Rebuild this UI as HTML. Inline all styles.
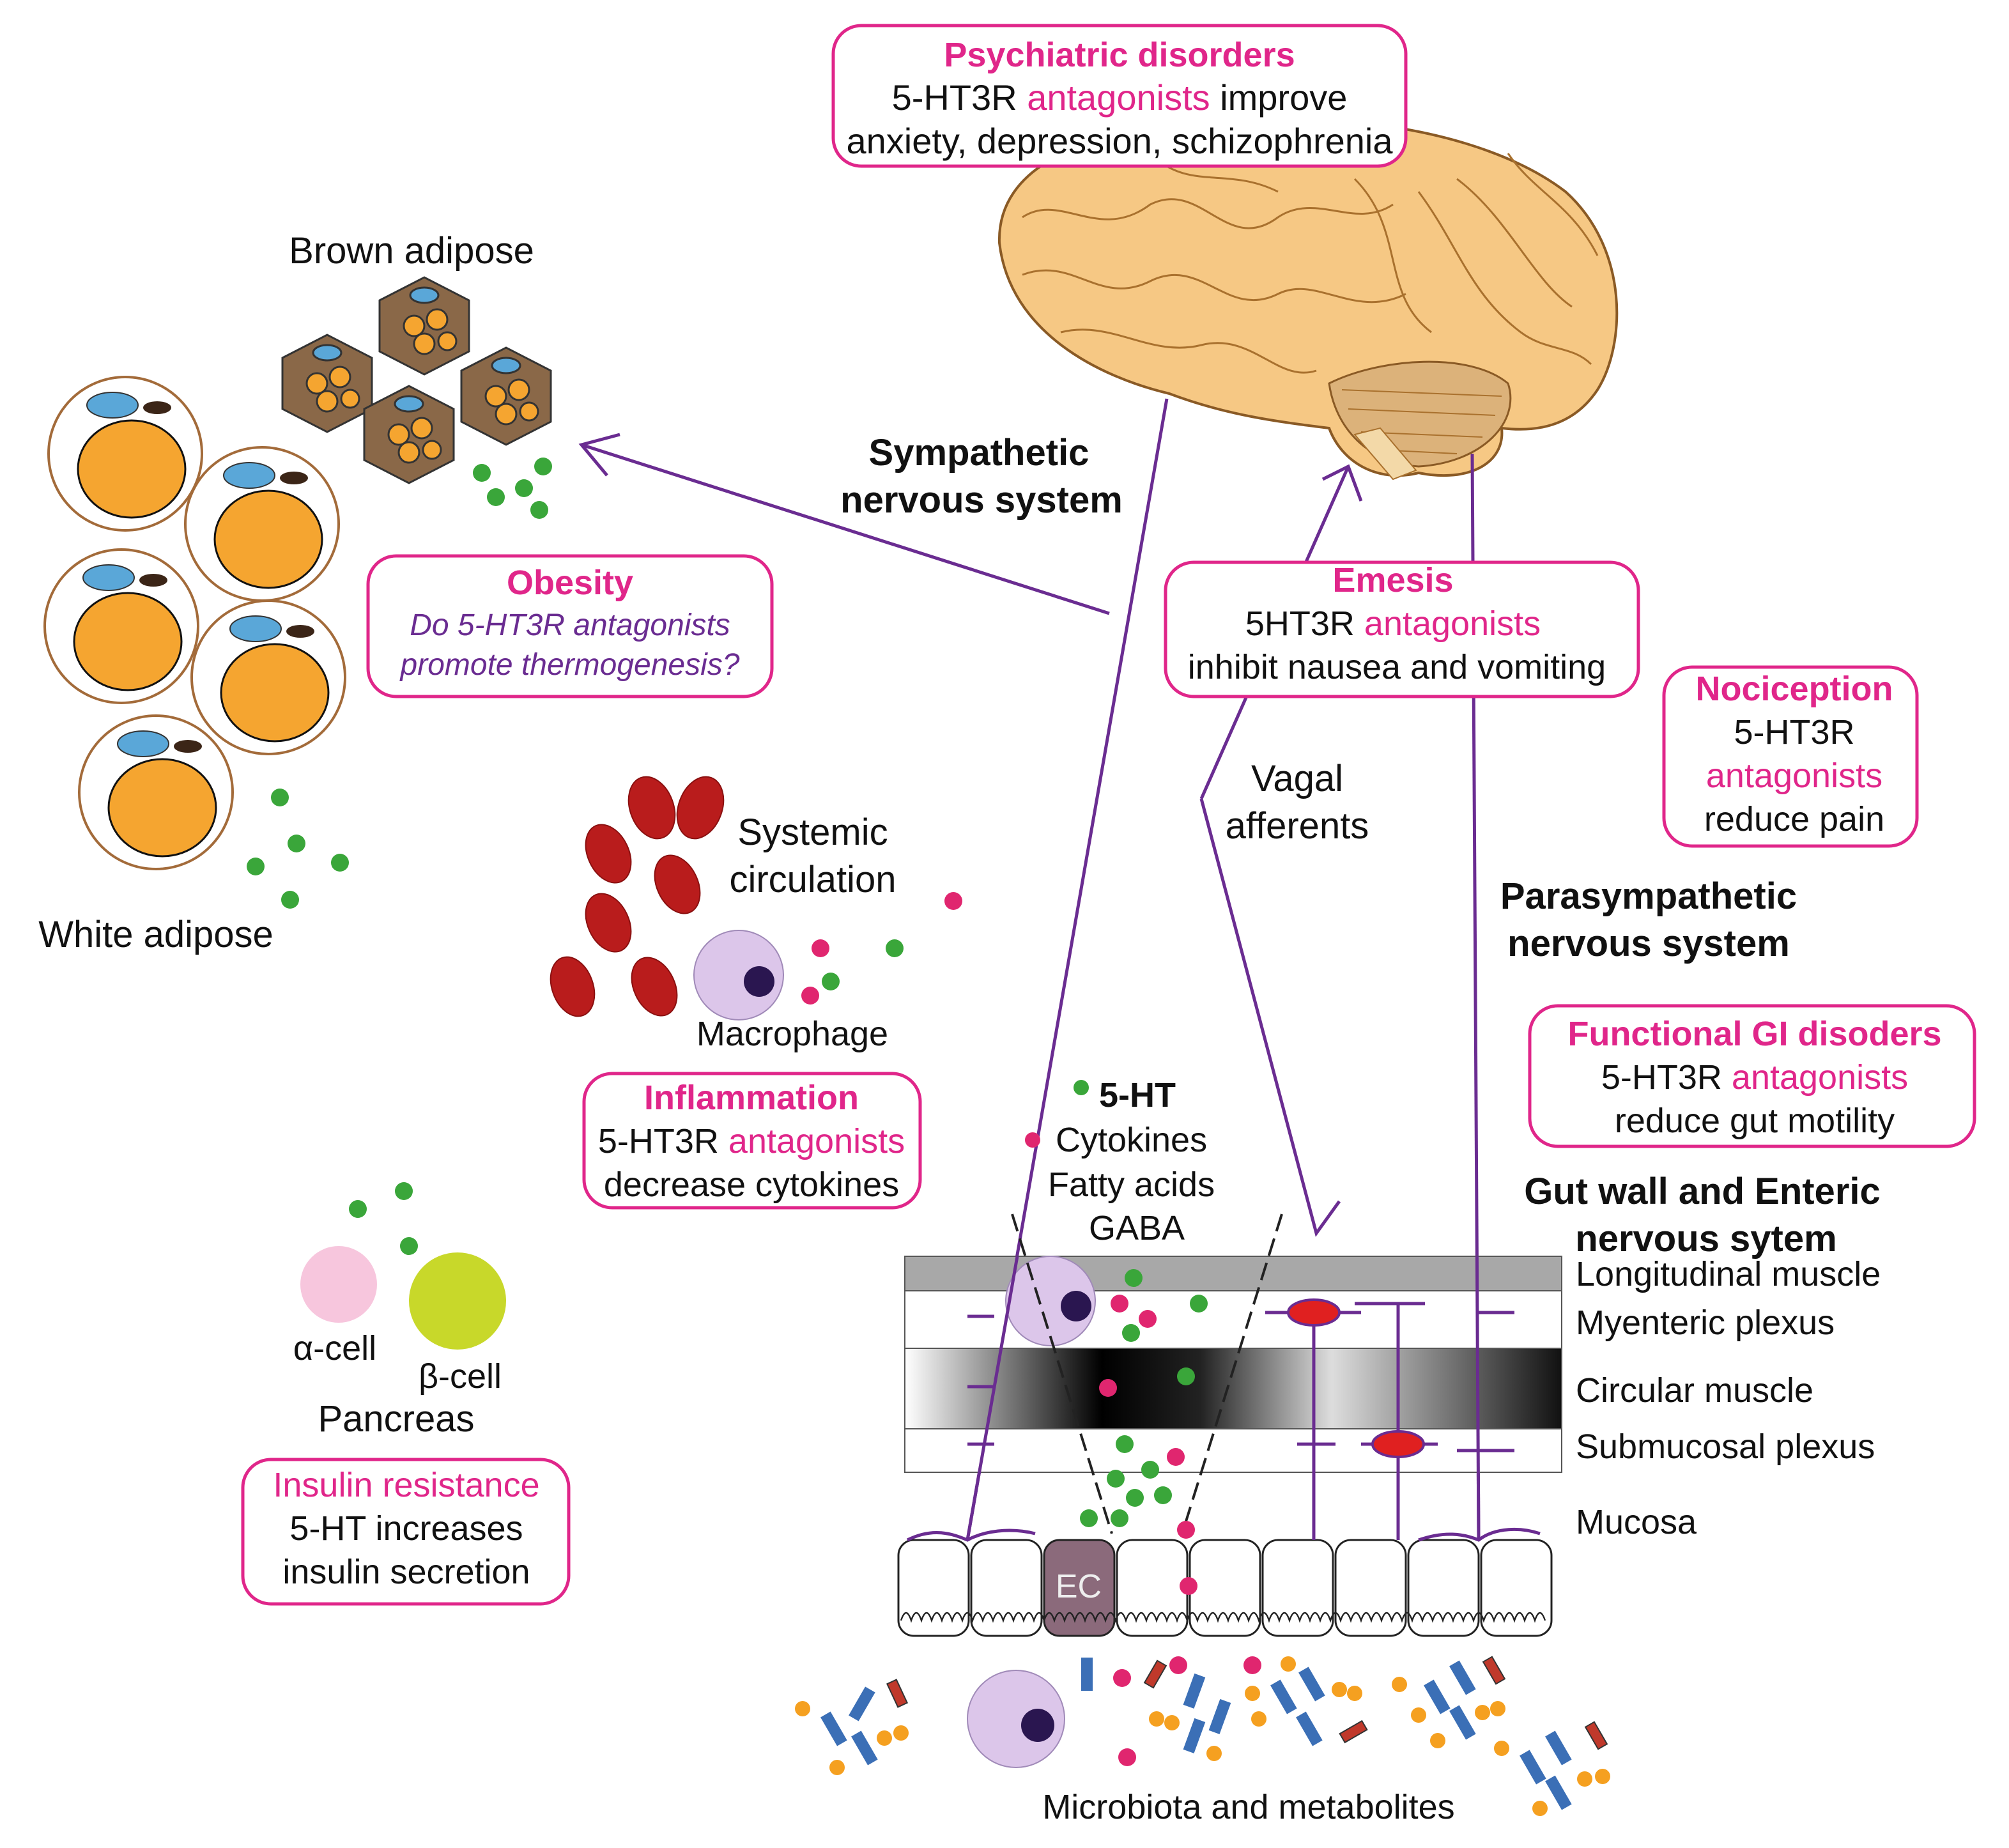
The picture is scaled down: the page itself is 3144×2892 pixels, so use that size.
<!DOCTYPE html>
<html><head><meta charset="utf-8"><style>
html,body{margin:0;padding:0;background:#fff;}
svg{display:block;}
text{font-family:"Liberation Sans",Arial,sans-serif;}
</style></head><body>
<svg width="3144" height="2892" viewBox="0 0 1572 1446" xmlns="http://www.w3.org/2000/svg">
<defs>
<linearGradient id="cm" x1="0" x2="1">
<stop offset="0" stop-color="#fff"/><stop offset="0.3" stop-color="#000"/><stop offset="0.45" stop-color="#222"/><stop offset="0.65" stop-color="#ddd"/><stop offset="1" stop-color="#111"/>
</linearGradient>
</defs>
<rect width="1572" height="1446" fill="#fff"/>

<!-- brain -->
<path d="M782,190 C780,130 850,100 940,102 C1030,82 1160,100 1225,150 C1275,195 1272,270 1250,305 C1230,335 1200,338 1175,335 C1178,362 1150,378 1110,370 C1078,378 1050,362 1040,335 C1000,330 960,325 915,308 C860,295 790,260 782,190 Z" fill="#f6c884" stroke="#8a5a25" stroke-width="2"/>
<path d="M1040,300 C1080,280 1150,275 1180,300 C1190,330 1160,362 1110,365 C1070,362 1045,335 1040,300Z" fill="#dcb27a" stroke="#8a5a25" stroke-width="1.5"/>
<g stroke="#a9712e" stroke-width="1" fill="none"><path d="M1050,305 L1175,310"/><path d="M1055,320 L1170,325"/><path d="M1065,338 L1160,342"/><path d="M1080,352 L1140,355"/></g>
<path d="M1060,340 L1090,375 L1108,368 L1080,335Z" fill="#f3d9a8" stroke="#a9712e"/>
<g fill="none" stroke="#a9712e" stroke-width="1.5">
<path d="M800,170 C830,150 860,190 900,160 C940,140 960,200 1000,170 C1030,150 1060,180 1090,160"/>
<path d="M800,215 C840,200 860,240 900,220 C940,200 960,250 1000,230 C1030,215 1060,250 1100,230"/>
<path d="M830,260 C870,250 900,280 940,270 C980,260 1000,300 1030,290"/>
<path d="M1060,140 C1100,180 1080,230 1120,260"/>
<path d="M1140,140 C1180,170 1200,220 1230,240"/>
<path d="M1110,150 C1140,190 1150,230 1190,260 C1210,275 1230,270 1245,285"/>
<path d="M900,120 C930,150 960,130 1000,150"/>
<path d="M1180,120 C1200,150 1230,160 1250,200"/>
</g>

<!-- nerves (drawn under boxes) -->
<g stroke="#6a2c91" stroke-width="2.5" fill="none">
<line x1="913" y1="312" x2="757" y2="1205"/>
<line x1="868" y1="480" x2="455" y2="348"/>
<polyline points="485,340 455,348 475,372"/>
<line x1="1152" y1="355" x2="1157" y2="1205"/>
<polyline points="940,625 1055,365"/>
<polyline points="1035,375 1055,365 1065,392"/>
<polyline points="940,625 1030,965 1048,940"/>
</g>

<!-- boxes -->
<g fill="#fff" stroke="#e0268a" stroke-width="2.5">
<rect x="652" y="20" width="448" height="110" rx="22"/>
<rect x="288" y="435" width="316" height="110" rx="22"/>
<rect x="912" y="440" width="370" height="105" rx="22"/>
<rect x="1302" y="522" width="198" height="140" rx="22"/>
<rect x="1197" y="787" width="348" height="110" rx="22"/>
<rect x="457" y="840" width="263" height="105" rx="22"/>
<rect x="190" y="1142" width="255" height="113" rx="22"/>
</g>
<g font-size="27" text-anchor="middle" fill="#111">
<text x="876" y="52" font-weight="bold" fill="#e0268a">Psychiatric disorders</text>
<text x="876" y="86" font-size="28">5-HT3R <tspan fill="#e0268a">antagonists</tspan> improve</text>
<text x="876" y="120" font-size="28">anxiety, depression, schizophrenia</text>
<text x="446" y="465" font-weight="bold" fill="#e0268a">Obesity</text>
<text x="446" y="497" font-style="italic" fill="#6a2c91" font-size="24">Do 5-HT3R antagonists</text>
<text x="446" y="528" font-style="italic" fill="#6a2c91" font-size="24">promote thermogenesis?</text>
<text x="1090" y="463" font-weight="bold" fill="#e0268a">Emesis</text>
<text x="1090" y="497">5HT3R <tspan fill="#e0268a">antagonists</tspan></text>
<text x="1093" y="531">inhibit nausea and vomiting</text>
<text x="1404" y="548" font-weight="bold" fill="#e0268a">Nociception</text>
<text x="1404" y="582">5-HT3R</text>
<text x="1404" y="616" fill="#e0268a">antagonists</text>
<text x="1404" y="650">reduce pain</text>
<text x="1373" y="818" font-weight="bold" fill="#e0268a">Functional GI disoders</text>
<text x="1373" y="852">5-HT3R <tspan fill="#e0268a">antagonists</tspan></text>
<text x="1373" y="886">reduce gut motility</text>
<text x="588" y="868" font-weight="bold" fill="#e0268a">Inflammation</text>
<text x="588" y="902">5-HT3R <tspan fill="#e0268a">antagonists</tspan></text>
<text x="588" y="936">decrease cytokines</text>
<text x="318" y="1171" fill="#e0268a">Insulin resistance</text>
<text x="318" y="1205">5-HT increases</text>
<text x="318" y="1239">insulin secretion</text>
</g>

<!-- labels -->
<g font-size="29" fill="#111" text-anchor="middle">
<text x="322" y="206">Brown adipose</text>
<text x="122" y="741">White adipose</text>
<text x="766" y="364" font-weight="bold">Sympathetic</text>
<text x="768" y="401" font-weight="bold">nervous system</text>
<text x="1015" y="619">Vagal</text>
<text x="1015" y="656">afferents</text>
<text x="1290" y="711" font-weight="bold">Parasympathetic</text>
<text x="1290" y="748" font-weight="bold">nervous system</text>
<text x="1332" y="942" font-weight="bold">Gut wall and Enteric</text>
<text x="1335" y="979" font-weight="bold">nervous sytem</text>
<text x="636" y="661">Systemic</text>
<text x="636" y="698">circulation</text>
<text x="310" y="1120">Pancreas</text>
</g>
<g font-size="27" fill="#111">
<text x="1233" y="1006">Longitudinal muscle</text>
<text x="1233" y="1044">Myenteric plexus</text>
<text x="1233" y="1097">Circular muscle</text>
<text x="1233" y="1141">Submucosal plexus</text>
<text x="1233" y="1200">Mucosa</text>
<text x="620" y="818" text-anchor="middle">Macrophage</text>
<text x="977" y="1423" text-anchor="middle">Microbiota and metabolites</text>
<text x="262" y="1064" text-anchor="middle">α-cell</text>
<text x="360" y="1086" text-anchor="middle">β-cell</text>
<text x="860" y="866" font-weight="bold">5-HT</text>
<text x="826" y="901">Cytokines</text>
<text x="820" y="936">Fatty acids</text>
<text x="852" y="970">GABA</text>
</g>
<circle cx="846" cy="851" r="6" fill="#3aa63a"/>
<circle cx="808" cy="892" r="6" fill="#e0266f"/>

<!-- white adipose -->
<g>
<g transform="translate(98,355)"><circle r="60" fill="#fff" stroke="#a36b3a" stroke-width="2"/><ellipse cx="5" cy="12" rx="42" ry="38" fill="#f5a530" stroke="#111" stroke-width="1.5"/><ellipse cx="-10" cy="-38" rx="20" ry="10" fill="#5aa7d8" stroke="#333"/><ellipse cx="25" cy="-36" rx="11" ry="5" fill="#3b2517"/></g>
<g transform="translate(205,410)"><circle r="60" fill="#fff" stroke="#a36b3a" stroke-width="2"/><ellipse cx="5" cy="12" rx="42" ry="38" fill="#f5a530" stroke="#111" stroke-width="1.5"/><ellipse cx="-10" cy="-38" rx="20" ry="10" fill="#5aa7d8" stroke="#333"/><ellipse cx="25" cy="-36" rx="11" ry="5" fill="#3b2517"/></g>
<g transform="translate(95,490)"><circle r="60" fill="#fff" stroke="#a36b3a" stroke-width="2"/><ellipse cx="5" cy="12" rx="42" ry="38" fill="#f5a530" stroke="#111" stroke-width="1.5"/><ellipse cx="-10" cy="-38" rx="20" ry="10" fill="#5aa7d8" stroke="#333"/><ellipse cx="25" cy="-36" rx="11" ry="5" fill="#3b2517"/></g>
<g transform="translate(210,530)"><circle r="60" fill="#fff" stroke="#a36b3a" stroke-width="2"/><ellipse cx="5" cy="12" rx="42" ry="38" fill="#f5a530" stroke="#111" stroke-width="1.5"/><ellipse cx="-10" cy="-38" rx="20" ry="10" fill="#5aa7d8" stroke="#333"/><ellipse cx="25" cy="-36" rx="11" ry="5" fill="#3b2517"/></g>
<g transform="translate(122,620)"><circle r="60" fill="#fff" stroke="#a36b3a" stroke-width="2"/><ellipse cx="5" cy="12" rx="42" ry="38" fill="#f5a530" stroke="#111" stroke-width="1.5"/><ellipse cx="-10" cy="-38" rx="20" ry="10" fill="#5aa7d8" stroke="#333"/><ellipse cx="25" cy="-36" rx="11" ry="5" fill="#3b2517"/></g>
</g>
<!-- brown adipose hexagons -->
<g stroke="#333" stroke-width="1.5">
<g transform="translate(332,255)"><polygon points="-35,-20 0,-38 35,-20 35,20 0,38 -35,20" fill="#8a6848"/><circle cx="-8" cy="0" r="8" fill="#f5a530"/><circle cx="10" cy="-5" r="8" fill="#f5a530"/><circle cx="0" cy="14" r="8" fill="#f5a530"/><circle cx="18" cy="12" r="7" fill="#f5a530"/><ellipse cx="0" cy="-24" rx="11" ry="6" fill="#5aa7d8"/></g>
<g transform="translate(256,300)"><polygon points="-35,-20 0,-38 35,-20 35,20 0,38 -35,20" fill="#8a6848"/><circle cx="-8" cy="0" r="8" fill="#f5a530"/><circle cx="10" cy="-5" r="8" fill="#f5a530"/><circle cx="0" cy="14" r="8" fill="#f5a530"/><circle cx="18" cy="12" r="7" fill="#f5a530"/><ellipse cx="0" cy="-24" rx="11" ry="6" fill="#5aa7d8"/></g>
<g transform="translate(396,310)"><polygon points="-35,-20 0,-38 35,-20 35,20 0,38 -35,20" fill="#8a6848"/><circle cx="-8" cy="0" r="8" fill="#f5a530"/><circle cx="10" cy="-5" r="8" fill="#f5a530"/><circle cx="0" cy="14" r="8" fill="#f5a530"/><circle cx="18" cy="12" r="7" fill="#f5a530"/><ellipse cx="0" cy="-24" rx="11" ry="6" fill="#5aa7d8"/></g>
<g transform="translate(320,340)"><polygon points="-35,-20 0,-38 35,-20 35,20 0,38 -35,20" fill="#8a6848"/><circle cx="-8" cy="0" r="8" fill="#f5a530"/><circle cx="10" cy="-5" r="8" fill="#f5a530"/><circle cx="0" cy="14" r="8" fill="#f5a530"/><circle cx="18" cy="12" r="7" fill="#f5a530"/><ellipse cx="0" cy="-24" rx="11" ry="6" fill="#5aa7d8"/></g>
</g>
<!-- green dots -->
<g fill="#3aa63a">
<circle cx="377" cy="370" r="7"/><circle cx="410" cy="382" r="7"/><circle cx="425" cy="365" r="7"/><circle cx="388" cy="389" r="7"/><circle cx="422" cy="399" r="7"/>
<circle cx="219" cy="624" r="7"/><circle cx="232" cy="660" r="7"/><circle cx="200" cy="678" r="7"/><circle cx="266" cy="675" r="7"/><circle cx="227" cy="704" r="7"/>
<circle cx="700" cy="742" r="7"/><circle cx="650" cy="768" r="7"/>
<circle cx="280" cy="946" r="7"/><circle cx="316" cy="932" r="7"/><circle cx="320" cy="975" r="7"/>
</g>
<g fill="#e0266f"><circle cx="746" cy="705" r="7"/><circle cx="642" cy="742" r="7"/><circle cx="634" cy="779" r="7"/></g>

<!-- RBCs -->
<g fill="#b91c1c" stroke="#8a1010">
<ellipse cx="510" cy="632" rx="17" ry="25" transform="rotate(-20 510 632)"/>
<ellipse cx="548" cy="632" rx="17" ry="25" transform="rotate(20 548 632)"/>
<ellipse cx="476" cy="668" rx="16" ry="24" transform="rotate(-25 476 668)"/>
<ellipse cx="530" cy="692" rx="16" ry="24" transform="rotate(-25 530 692)"/>
<ellipse cx="476" cy="722" rx="16" ry="24" transform="rotate(-25 476 722)"/>
<ellipse cx="448" cy="772" rx="16" ry="24" transform="rotate(-20 448 772)"/>
<ellipse cx="512" cy="772" rx="16" ry="24" transform="rotate(-25 512 772)"/>
</g>
<!-- macrophages -->
<g>
<circle cx="578" cy="763" r="35" fill="#dcc6ea" stroke="#a08ab8"/><circle cx="594" cy="768" r="12" fill="#2a1650"/>
<circle cx="795" cy="1345" r="38" fill="#dcc6ea" stroke="#a08ab8"/><circle cx="812" cy="1350" r="13" fill="#2a1650"/>
</g>
<!-- pancreas -->
<circle cx="265" cy="1005" r="30" fill="#f7c6dd"/>
<circle cx="358" cy="1018" r="38" fill="#c8d82a"/>

<!-- gut wall -->
<rect x="708" y="983" width="514" height="27" fill="#a8a8a8" stroke="#555"/>
<rect x="708" y="1010" width="514" height="45" fill="#fff" stroke="#555"/>
<rect x="708" y="1055" width="514" height="63" fill="url(#cm)" stroke="#555"/>
<rect x="708" y="1118" width="514" height="34" fill="#fff" stroke="#555"/>
<line x1="708" y1="1152" x2="1222" y2="1152" stroke="#555"/>
<g fill="#fff" stroke="#222" stroke-width="1.5">
<rect x="703" y="1205" width="55" height="75" rx="12"/><rect x="760" y="1205" width="55" height="75" rx="12"/>
<rect x="817" y="1205" width="55" height="75" rx="12" fill="#8b6a7b"/><rect x="874" y="1205" width="55" height="75" rx="12"/>
<rect x="931" y="1205" width="55" height="75" rx="12"/><rect x="988" y="1205" width="55" height="75" rx="12"/>
<rect x="1045" y="1205" width="55" height="75" rx="12"/><rect x="1102" y="1205" width="55" height="75" rx="12"/>
<rect x="1159" y="1205" width="55" height="75" rx="12"/>
</g>
<path d="M705,1268 q4,-12 8,0 q4,-12 8,0 q4,-12 8,0 q4,-12 8,0 q4,-12 8,0 q4,-12 8,0 q4,-12 8,0 q4,-12 8,0 q4,-12 8,0 q4,-12 8,0 q4,-12 8,0 q4,-12 8,0 q4,-12 8,0 q4,-12 8,0 q4,-12 8,0 q4,-12 8,0 q4,-12 8,0 q4,-12 8,0 q4,-12 8,0 q4,-12 8,0 q4,-12 8,0 q4,-12 8,0 q4,-12 8,0 q4,-12 8,0 q4,-12 8,0 q4,-12 8,0 q4,-12 8,0 q4,-12 8,0 q4,-12 8,0 q4,-12 8,0 q4,-12 8,0 q4,-12 8,0 q4,-12 8,0 q4,-12 8,0 q4,-12 8,0 q4,-12 8,0 q4,-12 8,0 q4,-12 8,0 q4,-12 8,0 q4,-12 8,0 q4,-12 8,0 q4,-12 8,0 q4,-12 8,0 q4,-12 8,0 q4,-12 8,0 q4,-12 8,0 q4,-12 8,0 q4,-12 8,0 q4,-12 8,0 q4,-12 8,0 q4,-12 8,0 q4,-12 8,0 q4,-12 8,0 q4,-12 8,0 q4,-12 8,0 q4,-12 8,0 q4,-12 8,0 q4,-12 8,0 q4,-12 8,0 q4,-12 8,0 q4,-12 8,0 q4,-12 8,0 q4,-12 8,0" fill="none" stroke="#222" stroke-width="1.2"/>
<text x="844" y="1250" font-size="26" fill="#eee" text-anchor="middle">EC</text>
<circle cx="822" cy="1018" r="35" fill="#dcc6ea" stroke="#a08ab8"/><circle cx="842" cy="1022" r="12" fill="#2a1650"/>
<g stroke="#222" stroke-dasharray="14,6" stroke-width="2" fill="none">
<line x1="792" y1="950" x2="870" y2="1200"/><line x1="1003" y1="950" x2="925" y2="1200"/>
</g>
<g fill="#3aa63a"><circle cx="887" cy="1000" r="7"/><circle cx="938" cy="1020" r="7"/><circle cx="885" cy="1043" r="7"/><circle cx="928" cy="1077" r="7"/><circle cx="880" cy="1130" r="7"/><circle cx="900" cy="1150" r="7"/><circle cx="873" cy="1157" r="7"/><circle cx="888" cy="1172" r="7"/><circle cx="910" cy="1170" r="7"/><circle cx="852" cy="1188" r="7"/><circle cx="876" cy="1188" r="7"/></g>
<g fill="#e0266f"><circle cx="876" cy="1020" r="7"/><circle cx="898" cy="1032" r="7"/><circle cx="867" cy="1086" r="7"/><circle cx="920" cy="1140" r="7"/><circle cx="928" cy="1197" r="7"/><circle cx="930" cy="1241" r="7"/><circle cx="878" cy="1313" r="7"/><circle cx="922" cy="1303" r="7"/><circle cx="980" cy="1303" r="7"/><circle cx="882" cy="1375" r="7"/></g>

<!-- gut nerves on top -->
<g stroke="#6a2c91" stroke-width="2.5" fill="none">
<line x1="796" y1="983" x2="757" y2="1205"/>
<line x1="1155.7" y1="983" x2="1157" y2="1205"/>
<line x1="1028" y1="1027" x2="1028" y2="1205"/>
<line x1="1094" y1="1020" x2="1094" y2="1205"/>
<line x1="990" y1="1027" x2="1065" y2="1027"/><line x1="1065" y1="1130" x2="1125" y2="1130"/>
<line x1="1060" y1="1020" x2="1115" y2="1020"/>
<line x1="1015" y1="1130" x2="1045" y2="1130"/>
<line x1="1140" y1="1135" x2="1185" y2="1135"/>
<line x1="757" y1="1030" x2="778" y2="1030"/><line x1="757" y1="1085" x2="778" y2="1085"/><line x1="757" y1="1130" x2="778" y2="1130"/>
<line x1="1157" y1="1027" x2="1185" y2="1027"/>
<path d="M710,1205 C730,1195 745,1200 757,1205 C770,1198 790,1195 810,1200"/>
<path d="M1110,1205 C1130,1198 1145,1200 1157,1205 C1170,1195 1190,1195 1205,1200"/>
</g>
<ellipse cx="1028" cy="1027" rx="20" ry="10" fill="#e02020" stroke="#6a2c91" stroke-width="2"/>
<ellipse cx="1094" cy="1130" rx="20" ry="10" fill="#e02020" stroke="#6a2c91" stroke-width="2"/>

<!-- microbiota -->
<g fill="#3b6fb6">
<rect x="846" y="1297" width="9" height="26"/><rect x="648" y="1340" width="9" height="26" transform="rotate(-30 652 1353)"/><rect x="670" y="1320" width="9" height="26" transform="rotate(30 674 1333)"/><rect x="672" y="1355" width="9" height="26" transform="rotate(-30 676 1368)"/>
<rect x="930" y="1310" width="9" height="26" transform="rotate(20 934 1323)"/><rect x="950" y="1330" width="9" height="26" transform="rotate(20 954 1343)"/><rect x="930" y="1345" width="9" height="26" transform="rotate(20 934 1358)"/>
<rect x="1000" y="1315" width="9" height="26" transform="rotate(-30 1004 1328)"/><rect x="1022" y="1305" width="9" height="26" transform="rotate(-30 1026 1318)"/><rect x="1020" y="1340" width="9" height="26" transform="rotate(-30 1024 1353)"/>
<rect x="1120" y="1315" width="9" height="26" transform="rotate(-30 1124 1328)"/><rect x="1140" y="1300" width="9" height="26" transform="rotate(-30 1144 1313)"/><rect x="1140" y="1335" width="9" height="26" transform="rotate(-30 1144 1348)"/>
<rect x="1195" y="1370" width="9" height="26" transform="rotate(-30 1199 1383)"/><rect x="1215" y="1355" width="9" height="26" transform="rotate(-30 1219 1368)"/><rect x="1215" y="1390" width="9" height="26" transform="rotate(-30 1219 1403)"/>
</g>
<g fill="#f5a020">
<circle cx="628" cy="1337" r="6"/><circle cx="655" cy="1383" r="6"/><circle cx="692" cy="1360" r="6"/><circle cx="705" cy="1356" r="6"/>
<circle cx="905" cy="1345" r="6"/><circle cx="917" cy="1348" r="6"/><circle cx="950" cy="1372" r="6"/><circle cx="1008" cy="1302" r="6"/><circle cx="980" cy="1325" r="6"/><circle cx="985" cy="1345" r="6"/><circle cx="1048" cy="1322" r="6"/><circle cx="1060" cy="1325" r="6"/><circle cx="1095" cy="1318" r="6"/><circle cx="1110" cy="1342" r="6"/><circle cx="1125" cy="1362" r="6"/><circle cx="1160" cy="1340" r="6"/><circle cx="1172" cy="1337" r="6"/><circle cx="1175" cy="1368" r="6"/><circle cx="1240" cy="1392" r="6"/><circle cx="1254" cy="1390" r="6"/><circle cx="1205" cy="1415" r="6"/>
</g>
<g fill="#c0392b" stroke="#333">
<rect x="698" y="1315" width="8" height="20" transform="rotate(-25 702 1325)"/><rect x="900" y="1300" width="8" height="20" transform="rotate(30 904 1310)"/><rect x="1055" y="1345" width="8" height="20" transform="rotate(60 1059 1355)"/><rect x="1165" y="1297" width="8" height="20" transform="rotate(-30 1169 1307)"/><rect x="1245" y="1348" width="8" height="20" transform="rotate(-30 1249 1358)"/>
</g>
</svg>
</body></html>
